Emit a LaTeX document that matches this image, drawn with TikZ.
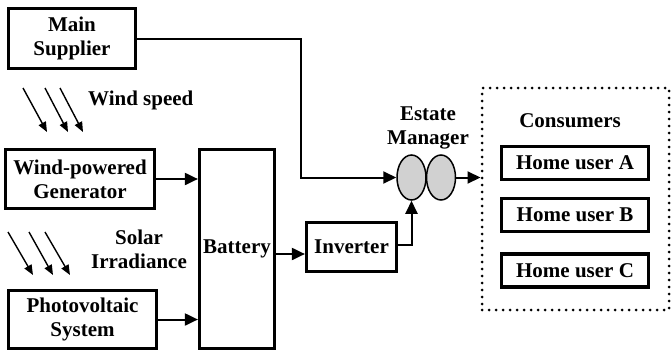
\documentclass[tikz,border=0pt]{standalone}
\usepackage{fontspec}
\setmainfont{Liberation Serif}
\usetikzlibrary{arrows.meta,shapes.geometric,calc}
\begin{document}
\begin{tikzpicture}[x=1pt,y=-1pt,
  every node/.style={font=\fontsize{21}{24}\selectfont\bfseries},
  box/.style={draw,line width=3.2pt,align=center,inner sep=0pt},
  conn/.style={line width=2pt,-{Triangle[length=13pt,width=12pt]}},
  ray/.style={line width=1.4pt,-{Triangle[length=10pt,width=8pt]}},
  lbl/.style={align=center,inner sep=0pt},
  oval/.style={ellipse,draw,line width=1.5pt,fill=black!18,minimum width=29pt,minimum height=45pt,inner sep=0pt}]
\useasboundingbox (0,0) rectangle (671,351);
% boxes
\node[box,minimum width=127pt,minimum height=60pt] (ms) at (72,38.5) {Main\\Supplier};
\node[box,minimum width=149pt,minimum height=59pt] (gen) at (80,179) {Wind-powered\\Generator};
\node[box,minimum width=148pt,minimum height=58pt] (pv) at (82.5,319.5) {Photovoltaic\\System};
\node[box,minimum width=75pt,minimum height=199pt] (bat) at (237,249) {Battery};
\node[box,minimum width=90pt,minimum height=49pt] (inv) at (351.5,247) {Inverter};
\node[box,minimum width=147pt,minimum height=33pt] (ha) at (575,163) {Home user A};
\node[box,minimum width=147pt,minimum height=33pt] (hb) at (575,215) {Home user B};
\node[box,minimum width=147pt,minimum height=33pt] (hc) at (575,270.5) {Home user C};
\node[draw,line width=3pt,dash pattern=on 0pt off 7pt,line cap=round,minimum width=187pt,minimum height=222pt,inner sep=0pt] (cons) at (575.5,199) {};
% ovals
\node[oval] (l) at (411.5,177.5) {};
\node[oval] (r) at (441,177.5) {};
% labels
\node[lbl,anchor=west] (ws) at (88,100) {Wind speed};
\node[lbl] (si) at (139,249.5) {Solar\\Irradiance};
\node[lbl] (em) at (428,127.5) {Estate\\Manager};
\node[lbl] (ct) at (570,121) {Consumers};
% connectors
\coordinate (c1) at (301,38.5);
\draw[conn] (ms.east) -- (c1) |- (l.west);
\draw[conn] (gen.east) -- (gen.east -| bat.west);
\draw[conn] (pv.east) -- (pv.east -| bat.west);
\draw[conn] ([yshift=-5pt]bat.east) -- ([yshift=-5pt]bat.east -| inv.west);
\draw[conn] ([yshift=2pt]inv.east) -| (l.south);
\draw[conn] (r.east) -- (r.east -| cons.west);
% wind rays
\coordinate (w1a) at (23,88); \coordinate (w1b) at (47,132);
\coordinate (w2a) at (45,88); \coordinate (w2b) at (68,132);
\coordinate (w3a) at (60,88); \coordinate (w3b) at (83,132);
\draw[ray] (w1a) -- (w1b);
\draw[ray] (w2a) -- (w2b);
\draw[ray] (w3a) -- (w3b);
% solar rays
\coordinate (s1a) at (8,232); \coordinate (s1b) at (33,275);
\coordinate (s2a) at (29,232); \coordinate (s2b) at (53,275);
\coordinate (s3a) at (45,232); \coordinate (s3b) at (70,275);
\draw[ray] (s1a) -- (s1b);
\draw[ray] (s2a) -- (s2b);
\draw[ray] (s3a) -- (s3b);
\end{tikzpicture}
\end{document}
